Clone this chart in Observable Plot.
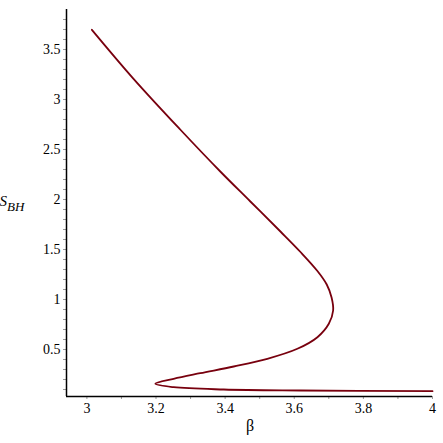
<!DOCTYPE html>
<html>
<head>
<meta charset="utf-8">
<script src="https://cdn.jsdelivr.net/npm/d3@7"></script>
<script src="https://cdn.jsdelivr.net/npm/@observablehq/plot@0.6"></script>
<style>
  html, body { margin: 0; padding: 0; background: white; }
  #chart svg { display: block; }
</style>
</head>
<body>
<div id="chart"></div>
<script>
// Curve points (β, S_BH), in drawing order
const beta = [3.0145, 3.135, 3.270, 3.386, 3.473, 3.560, 3.618, 3.667, 3.694, 3.708, 3.7125, 3.700, 3.667, 3.609, 3.522, 3.425, 3.328, 3.251, 3.198, 3.251, 3.396, 3.618, 4.0];
const sbh  = [3.697, 3.207, 2.70, 2.28, 1.98, 1.68, 1.475, 1.285, 1.15, 1.02, 0.89, 0.757, 0.623, 0.507, 0.407, 0.33, 0.263, 0.207, 0.157, 0.123, 0.10, 0.09, 0.083];

const xMajor = [3, 3.2, 3.4, 3.6, 3.8, 4];
const yMajor = [0.5, 1, 1.5, 2, 2.5, 3, 3.5];
const xMinor = d3.range(30, 41).map(d => d / 10);
const yMinor = d3.range(1, 39).map(d => d / 10);
const xDomain = [2.941, 4.0];
const yDomain = [0.03, 3.9];

const near = (arr, v) => arr.some(a => Math.abs(a - v) < 1e-9);
const fmt = arr => v => near(arr, v) ? String(+v.toFixed(1)) : "";
const serif = "'Liberation Serif', 'Times New Roman', serif";

const chart = Plot.plot({
  width: 443,
  height: 443,
  marginLeft: 66,
  marginRight: 11,
  marginTop: 9,
  marginBottom: 47,
  style: { fontFamily: serif, fontSize: "14px", background: "white", color: "black" },
  x: { domain: xDomain },
  y: { domain: yDomain },
  marks: [
    Plot.axisX(xMinor, { tickSize: 3, stroke: "#9a9a9a", fill: "black", tickPadding: 4, tickFormat: fmt(xMajor), label: null }),
    Plot.axisY(yMinor, { tickSize: 3, stroke: "#9a9a9a", fill: "black", tickPadding: 3, tickFormat: fmt(yMajor), label: null }),
    Plot.ruleX([xDomain[0]], { stroke: "black", strokeWidth: 1.5 }),
    Plot.ruleY([yDomain[0]], { stroke: "black", strokeWidth: 1.5 }),
    Plot.line(d3.range(beta.length), { x: i => beta[i], y: i => sbh[i], curve: "catmull-rom", stroke: "#78000E", strokeWidth: 1.8 })
  ]
});

const svg = d3.select(chart);
// x label
svg.append("text")
  .attr("x", 250).attr("y", 431)
  .attr("text-anchor", "middle")
  .attr("font-family", serif)
  .attr("font-size", 16)
  .attr("fill", "black")
  .text("β");
// y label S_BH
const yl = svg.append("text")
  .attr("x", 12).attr("y", 206)
  .attr("font-family", serif)
  .attr("font-style", "italic")
  .attr("fill", "black");
yl.append("tspan").attr("font-size", 15).text("S");
yl.append("tspan").attr("font-size", 13).attr("dy", 5).text("BH");

document.getElementById("chart").appendChild(chart);
</script>
</body>
</html>
